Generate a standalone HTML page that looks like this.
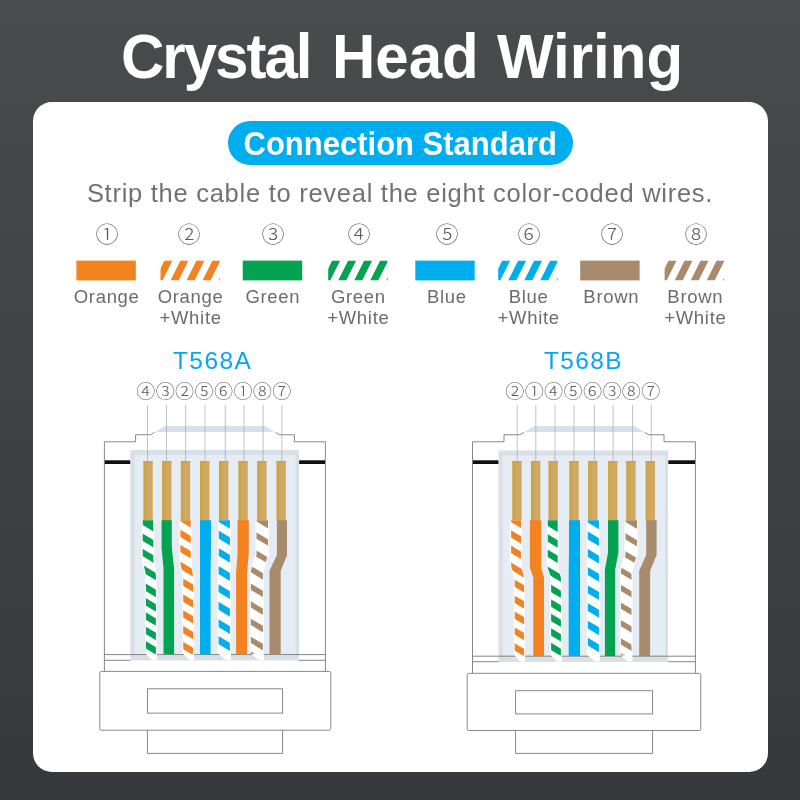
<!DOCTYPE html>
<html lang="en"><head><meta charset="utf-8"><title>Crystal Head Wiring</title>
<style>
html,body{margin:0;padding:0;}
body{width:800px;height:800px;overflow:hidden;position:relative;background:linear-gradient(180deg,#494b4d 0%,#37383b 100%);font-family:"Liberation Sans","Noto Sans CJK SC",sans-serif;}
.card{position:absolute;left:33px;top:101.5px;width:735.2px;height:670.5px;background:#fff;border-radius:19px;}
h1{position:absolute;left:0;top:23.8px;transform:scale(1,1.04);transform-origin:0 0;width:800px;height:64px;margin:0;color:#fff;font-weight:bold;font-size:60px;line-height:64px;white-space:nowrap;}
h1 span{position:absolute;top:0;}
.pill{position:absolute;left:227.75px;top:120.5px;width:345px;height:44.5px;border-radius:22.3px;background:#00AEEF;color:#fff;font-weight:bold;font-size:31px;line-height:47px;text-align:center;white-space:nowrap;}
.sub{position:absolute;left:0;top:177px;width:800px;text-align:center;color:#727272;font-size:25.5px;line-height:32px;white-space:nowrap;letter-spacing:0.73px;}
.num{position:absolute;top:219.5px;width:60px;text-align:center;transform:scaleX(1.05);font-size:22px;line-height:30px;color:#5c5c5c;font-weight:300;}
.lab{position:absolute;top:287px;width:100px;text-align:center;font-size:18.5px;line-height:20.75px;color:#6c6c6c;white-space:nowrap;letter-spacing:0.7px;}
.std{position:absolute;top:346px;width:160px;text-align:center;font-size:24.5px;line-height:30px;color:#08A6EC;white-space:nowrap;letter-spacing:1.4px;}
.pins{position:absolute;top:378.6px;width:220px;text-align:center;font-size:18.4px;line-height:26px;color:#5c5c5c;font-weight:300;white-space:nowrap;letter-spacing:0.3px;transform:scaleX(1.04);}
.pill span{display:inline-block;transform:scaleY(1.05);transform-origin:50% 72%;}
svg{position:absolute;left:0;top:0;}
.stage{position:absolute;left:0;top:0;width:800px;height:800px;will-change:transform;}
</style></head><body>
<div class="card"></div>
<div class="stage">
<h1><span style="left:121px;letter-spacing:-2px">Crystal </span><span style="left:332px">Head </span><span style="left:497px">Wiring</span></h1>
<div class="pill"><span>Connection Standard</span></div>
<div class="sub">Strip the cable to reveal the eight color-coded wires.</div>
<svg width="800" height="800" viewBox="0 0 800 800">
<defs><linearGradient id="pg" x1="0" y1="0" x2="1" y2="0"><stop offset="0" stop-color="#C9A23D"/><stop offset="0.25" stop-color="#CDA74F"/><stop offset="0.55" stop-color="#D0A96A"/><stop offset="0.85" stop-color="#D2A85E"/><stop offset="1" stop-color="#D0A152"/></linearGradient></defs>
<rect x="76.4" y="260.6" width="59.4" height="19.8" fill="#F38220"/><clipPath id="cs1"><rect x="160.5" y="260.6" width="59.4" height="19.8"/></clipPath><g clip-path="url(#cs1)" fill="#F38220"><polygon points="148.5,260.5 156.5,260.5 146.5,280.5 138.5,280.5"/><polygon points="164.5,260.5 172.5,260.5 162.5,280.5 154.5,280.5"/><polygon points="180.5,260.5 188.5,260.5 178.5,280.5 170.5,280.5"/><polygon points="196.5,260.5 204.5,260.5 194.5,280.5 186.5,280.5"/><polygon points="212.5,260.5 220.5,260.5 210.5,280.5 202.5,280.5"/><polygon points="228.5,260.5 236.5,260.5 226.5,280.5 218.5,280.5"/></g><rect x="242.75" y="260.6" width="59.4" height="19.8" fill="#03A351"/><clipPath id="cs3"><rect x="328.2" y="260.6" width="59.4" height="19.8"/></clipPath><g clip-path="url(#cs3)" fill="#03A351"><polygon points="316.2,260.5 324.2,260.5 314.2,280.5 306.2,280.5"/><polygon points="332.2,260.5 340.2,260.5 330.2,280.5 322.2,280.5"/><polygon points="348.2,260.5 356.2,260.5 346.2,280.5 338.2,280.5"/><polygon points="364.2,260.5 372.2,260.5 362.2,280.5 354.2,280.5"/><polygon points="380.2,260.5 388.2,260.5 378.2,280.5 370.2,280.5"/><polygon points="396.2,260.5 404.2,260.5 394.2,280.5 386.2,280.5"/></g><rect x="415.3" y="260.6" width="59.4" height="19.8" fill="#00AEEF"/><clipPath id="cs5"><rect x="498.2" y="260.6" width="59.4" height="19.8"/></clipPath><g clip-path="url(#cs5)" fill="#00AEEF"><polygon points="486.2,260.5 494.2,260.5 484.2,280.5 476.2,280.5"/><polygon points="502.2,260.5 510.2,260.5 500.2,280.5 492.2,280.5"/><polygon points="518.2,260.5 526.2,260.5 516.2,280.5 508.2,280.5"/><polygon points="534.2,260.5 542.2,260.5 532.2,280.5 524.2,280.5"/><polygon points="550.2,260.5 558.2,260.5 548.2,280.5 540.2,280.5"/><polygon points="566.2,260.5 574.2,260.5 564.2,280.5 556.2,280.5"/></g><rect x="580.2" y="260.6" width="59.4" height="19.8" fill="#A88A6C"/><clipPath id="cs7"><rect x="664.6" y="260.6" width="59.4" height="19.8"/></clipPath><g clip-path="url(#cs7)" fill="#A88A6C"><polygon points="652.6,260.5 660.6,260.5 650.6,280.5 642.6,280.5"/><polygon points="668.6,260.5 676.6,260.5 666.6,280.5 658.6,280.5"/><polygon points="684.6,260.5 692.6,260.5 682.6,280.5 674.6,280.5"/><polygon points="700.6,260.5 708.6,260.5 698.6,280.5 690.6,280.5"/><polygon points="716.6,260.5 724.6,260.5 714.6,280.5 706.6,280.5"/><polygon points="732.6,260.5 740.6,260.5 730.6,280.5 722.6,280.5"/></g><polygon points="165,426 265,426 274.87,432 155.13,432" fill="#D9E1E8"/><rect x="130.3" y="450" width="168.6" height="210.4" fill="#D7DFE7"/><rect x="134.6" y="455" width="161.2" height="200.6" fill="#E5ECF3"/><path d="M104.4,671.4 L104.4,441.8 L135.6,441.8 L135.6,434.75 L150.6,434.75 L154.63,432.3" fill="none" stroke="#7a7a7a" stroke-width="0.9"/><path d="M325.4,671.4 L325.4,441.8 L294.4,441.8 L294.4,434.75 L279.4,434.75 L275.37,432.3" fill="none" stroke="#7a7a7a" stroke-width="0.9"/><rect x="104.8" y="460.3" width="25.4" height="3.7" fill="#111"/><rect x="299.1" y="460.3" width="25.9" height="3.7" fill="#111"/><path d="M104.4,654.6 H325.4 M104.4,660.3 H130.3 M298.9,660.3 H325.4" fill="none" stroke="#777" stroke-width="0.9"/><rect x="143.4" y="461" width="9.3" height="60" fill="url(#pg)"/><rect x="143.4" y="461" width="9.3" height="1.5" fill="#D0A03C" opacity="0.8"/><rect x="162.1" y="461" width="9.3" height="60" fill="url(#pg)"/><rect x="162.1" y="461" width="9.3" height="1.5" fill="#D0A03C" opacity="0.8"/><rect x="180.8" y="461" width="9.3" height="60" fill="url(#pg)"/><rect x="180.8" y="461" width="9.3" height="1.5" fill="#D0A03C" opacity="0.8"/><rect x="200" y="461" width="9.3" height="60" fill="url(#pg)"/><rect x="200" y="461" width="9.3" height="1.5" fill="#D0A03C" opacity="0.8"/><rect x="219" y="461" width="9.3" height="60" fill="url(#pg)"/><rect x="219" y="461" width="9.3" height="1.5" fill="#D0A03C" opacity="0.8"/><rect x="238.4" y="461" width="9.3" height="60" fill="url(#pg)"/><rect x="238.4" y="461" width="9.3" height="1.5" fill="#D0A03C" opacity="0.8"/><rect x="257.2" y="461" width="9.3" height="60" fill="url(#pg)"/><rect x="257.2" y="461" width="9.3" height="1.5" fill="#D0A03C" opacity="0.8"/><rect x="276.5" y="461" width="9.3" height="60" fill="url(#pg)"/><rect x="276.5" y="461" width="9.3" height="1.5" fill="#D0A03C" opacity="0.8"/><line x1="147.5" y1="405" x2="147.5" y2="461" stroke="#a4a9ae" stroke-width="0.7"/><line x1="166.5" y1="405" x2="166.5" y2="461" stroke="#a4a9ae" stroke-width="0.7"/><line x1="185.6" y1="405" x2="185.6" y2="461" stroke="#a4a9ae" stroke-width="0.7"/><line x1="205" y1="405" x2="205" y2="461" stroke="#a4a9ae" stroke-width="0.7"/><line x1="225.3" y1="405" x2="225.3" y2="461" stroke="#a4a9ae" stroke-width="0.7"/><line x1="244" y1="405" x2="244" y2="461" stroke="#a4a9ae" stroke-width="0.7"/><line x1="263.1" y1="405" x2="263.1" y2="461" stroke="#a4a9ae" stroke-width="0.7"/><line x1="281.9" y1="405" x2="281.9" y2="461" stroke="#a4a9ae" stroke-width="0.7"/><path d="M141.8,520.2 L154.2,520.2 L154.2,560 L156.8,575 L156.8,659.9 L151.8,659.9 L145,652.9 L145,575 L141.8,560 Z" fill="#fff"/><clipPath id="aw0"><path d="M142.7,520.2 L153.3,520.2 L153.3,560 L155.9,575 L155.9,654 L145.9,654 L145.9,575 L142.7,560 Z"/></clipPath><g clip-path="url(#aw0)" fill="#03A351"><polygon points="140.8,518.2 157.8,518.2 157.8,534.1 140.8,523.9"/><polygon points="140.8,532.46 157.8,542.66 157.8,550.06 140.8,539.86"/><polygon points="140.8,547.66 157.8,557.86 157.8,565.26 140.8,555.06"/><polygon points="140.8,563.83 157.8,574.03 157.8,581.43 140.8,571.23"/><polygon points="140.8,580.64 157.8,590.84 157.8,598.24 140.8,588.04"/><polygon points="140.8,595.14 157.8,605.34 157.8,612.74 140.8,602.54"/><polygon points="140.8,609.34 157.8,619.54 157.8,626.94 140.8,616.74"/><polygon points="140.8,623.74 157.8,633.94 157.8,641.34 140.8,631.14"/><polygon points="140.8,638.14 157.8,648.34 157.8,655.74 140.8,645.54"/></g><path d="M161.6,520.2 L171.8,520.2 L171.8,548 L174.1,568.5 L174.1,654.3 L163.5,654.3 L163.5,568.5 L161.6,548 Z" fill="#03A351"/><path d="M179.5,520.2 L191.6,520.2 L191.6,563 L194.1,577 L194.1,659.9 L189.1,659.9 L182.3,652.9 L182.3,577 L179.5,563 Z" fill="#fff"/><clipPath id="aw2"><path d="M180.4,520.2 L190.7,520.2 L190.7,563 L193.2,577 L193.2,654 L183.2,654 L183.2,577 L180.4,563 Z"/></clipPath><g clip-path="url(#aw2)" fill="#F38220"><polygon points="178.5,518.2 195.1,518.2 195.1,530.04 178.5,520.08"/><polygon points="178.5,528.56 195.1,538.52 195.1,545.82 178.5,535.86"/><polygon points="178.5,543.76 195.1,553.72 195.1,561.02 178.5,551.06"/><polygon points="178.5,560.56 195.1,570.52 195.1,577.82 178.5,567.86"/><polygon points="178.5,575.78 195.1,585.74 195.1,593.04 178.5,583.08"/><polygon points="178.5,591.68 195.1,601.64 195.1,608.94 178.5,598.98"/><polygon points="178.5,607.48 195.1,617.44 195.1,624.74 178.5,614.78"/><polygon points="178.5,623.18 195.1,633.14 195.1,640.44 178.5,630.48"/><polygon points="178.5,638.98 195.1,648.94 195.1,656.24 178.5,646.28"/></g><path d="M200,520.2 L211,520.2 L211,550 L210.6,570 L210.6,654.3 L200,654.3 L200,570 L200,550 Z" fill="#00AEEF"/><path d="M217.9,520.2 L230.8,520.2 L230.8,550 L230.8,570 L230.8,659.9 L225.8,659.9 L217.7,652.9 L217.7,570 L217.9,550 Z" fill="#fff"/><clipPath id="aw4"><path d="M218.8,520.2 L229.9,520.2 L229.9,550 L229.9,570 L229.9,654 L218.6,654 L218.6,570 L218.8,550 Z"/></clipPath><g clip-path="url(#aw4)" fill="#00AEEF"><polygon points="216.7,518.2 231.8,518.2 231.8,529.74 216.7,520.68"/><polygon points="216.7,529.54 231.8,538.6 231.8,546.5 216.7,537.44"/><polygon points="216.7,546.94 231.8,556 231.8,563.9 216.7,554.84"/><polygon points="216.7,565.04 231.8,574.1 231.8,582 216.7,572.94"/><polygon points="216.7,583.16 231.8,592.22 231.8,600.12 216.7,591.06"/><polygon points="216.7,600.76 231.8,609.82 231.8,617.72 216.7,608.66"/><polygon points="216.7,618.16 231.8,627.22 231.8,635.12 216.7,626.06"/><polygon points="216.7,635.06 231.8,644.12 231.8,652.02 216.7,642.96"/></g><path d="M237.6,520.2 L248.8,520.2 L248.8,552.7 L247,573 L247,654.3 L236.1,654.3 L236.1,573 L237.6,552.7 Z" fill="#F38220"/><path d="M255.6,520.2 L269,520.2 L269,555 L263.8,570.7 L263.8,659.9 L258.8,659.9 L249.9,652.9 L249.9,570.7 L255.6,555 Z" fill="#fff"/><clipPath id="aw6"><path d="M256.5,520.2 L268.1,520.2 L268.1,555 L262.9,570.7 L262.9,654 L250.8,654 L250.8,570.7 L256.5,555 Z"/></clipPath><g clip-path="url(#aw6)" fill="#A88A6C"><polygon points="248.9,518.2 270,518.2 270,529.54 248.9,516.88"/><polygon points="248.9,527.94 270,540.6 270,546.9 248.9,534.24"/><polygon points="248.9,545.94 270,558.6 270,564.9 248.9,552.24"/><polygon points="248.9,564.81 270,577.47 270,583.77 248.9,571.11"/><polygon points="248.9,582.46 270,595.12 270,601.42 248.9,588.76"/><polygon points="248.9,600.16 270,612.82 270,619.12 248.9,606.46"/><polygon points="248.9,617.56 270,630.22 270,636.52 248.9,623.86"/><polygon points="248.9,635.56 270,648.22 270,654.52 248.9,641.86"/><polygon points="248.9,650.46 270,663.12 270,669.42 248.9,656.76"/></g><path d="M276.9,520.2 L287,520.2 L287,555 L280.7,570.7 L280.7,654.3 L269.5,654.3 L269.5,570.7 L276.9,555 Z" fill="#A88A6C"/><rect x="99.8" y="671.4" width="231" height="58.8" rx="1.5" fill="#fff" stroke="#7a7a7a" stroke-width="0.9"/><rect x="147.4" y="688.8" width="135.2" height="24.3" fill="#fff" stroke="#7a7a7a" stroke-width="0.9"/><path d="M147.4,730.2 V753.4 H282.6 V730.2" fill="none" stroke="#7a7a7a" stroke-width="0.9"/><polygon points="534,426 635,426 644.19,432 524.4,432" fill="#D9E1E8"/><rect x="498.5" y="450.5" width="169.6" height="211.5" fill="#D7DFE7"/><rect x="502.8" y="455.5" width="162.2" height="201.7" fill="#E5ECF3"/><path d="M472.5,673.3 L472.5,441.8 L504,441.8 L504,434.75 L520,434.75 L523.92,432.3" fill="none" stroke="#7a7a7a" stroke-width="0.9"/><path d="M695.4,673.3 L695.4,441.8 L664,441.8 L664,434.75 L648.4,434.75 L644.65,432.3" fill="none" stroke="#7a7a7a" stroke-width="0.9"/><rect x="472.9" y="460.3" width="25.5" height="3.7" fill="#111"/><rect x="668.3" y="460.3" width="26.7" height="3.7" fill="#111"/><path d="M472.5,656.2 H695.4 M472.5,661.7 H498.5 M668.1,661.7 H695.4" fill="none" stroke="#777" stroke-width="0.9"/><rect x="512.25" y="461" width="9.3" height="60" fill="url(#pg)"/><rect x="512.25" y="461" width="9.3" height="1.5" fill="#D0A03C" opacity="0.8"/><rect x="531" y="461" width="9.3" height="60" fill="url(#pg)"/><rect x="531" y="461" width="9.3" height="1.5" fill="#D0A03C" opacity="0.8"/><rect x="548.5" y="461" width="9.3" height="60" fill="url(#pg)"/><rect x="548.5" y="461" width="9.3" height="1.5" fill="#D0A03C" opacity="0.8"/><rect x="569.3" y="461" width="9.3" height="60" fill="url(#pg)"/><rect x="569.3" y="461" width="9.3" height="1.5" fill="#D0A03C" opacity="0.8"/><rect x="588.1" y="461" width="9.3" height="60" fill="url(#pg)"/><rect x="588.1" y="461" width="9.3" height="1.5" fill="#D0A03C" opacity="0.8"/><rect x="608.1" y="461" width="9.3" height="60" fill="url(#pg)"/><rect x="608.1" y="461" width="9.3" height="1.5" fill="#D0A03C" opacity="0.8"/><rect x="626.25" y="461" width="9.3" height="60" fill="url(#pg)"/><rect x="626.25" y="461" width="9.3" height="1.5" fill="#D0A03C" opacity="0.8"/><rect x="645.6" y="461" width="9.3" height="60" fill="url(#pg)"/><rect x="645.6" y="461" width="9.3" height="1.5" fill="#D0A03C" opacity="0.8"/><line x1="517.25" y1="405" x2="517.25" y2="461" stroke="#a4a9ae" stroke-width="0.7"/><line x1="535.8" y1="405" x2="535.8" y2="461" stroke="#a4a9ae" stroke-width="0.7"/><line x1="555" y1="405" x2="555" y2="461" stroke="#a4a9ae" stroke-width="0.7"/><line x1="574" y1="405" x2="574" y2="461" stroke="#a4a9ae" stroke-width="0.7"/><line x1="594.4" y1="405" x2="594.4" y2="461" stroke="#a4a9ae" stroke-width="0.7"/><line x1="613.1" y1="405" x2="613.1" y2="461" stroke="#a4a9ae" stroke-width="0.7"/><line x1="632.5" y1="405" x2="632.5" y2="461" stroke="#a4a9ae" stroke-width="0.7"/><line x1="651.25" y1="405" x2="651.25" y2="461" stroke="#a4a9ae" stroke-width="0.7"/><path d="M510.2,520.2 L522,520.2 L522,566 L525,577.5 L525,661.5 L520,661.5 L513.8,654.5 L513.8,577.5 L510.2,566 Z" fill="#fff"/><clipPath id="bw0"><path d="M511.1,520.2 L521.1,520.2 L521.1,566 L524.1,577.5 L524.1,655.6 L514.7,655.6 L514.7,577.5 L511.1,566 Z"/></clipPath><g clip-path="url(#bw0)" fill="#F38220"><polygon points="509.2,518.2 526,518.2 526,530.94 509.2,520.86"/><polygon points="509.2,529.23 526,539.31 526,546.61 509.2,536.53"/><polygon points="509.2,544.54 526,554.62 526,561.92 509.2,551.84"/><polygon points="509.2,561.47 526,571.55 526,578.85 509.2,568.77"/><polygon points="509.2,576.33 526,586.41 526,593.71 509.2,583.63"/><polygon points="509.2,592.35 526,602.43 526,609.73 509.2,599.65"/><polygon points="509.2,608.27 526,618.35 526,625.65 509.2,615.57"/><polygon points="509.2,624.09 526,634.17 526,641.47 509.2,631.39"/><polygon points="509.2,640.01 526,650.09 526,657.39 509.2,647.31"/></g><path d="M529.9,520.2 L541.2,520.2 L541.2,568 L544,577.5 L544,655.9 L533.3,655.9 L533.3,577.5 L529.9,568 Z" fill="#F38220"/><path d="M546.8,520.2 L558.6,520.2 L558.6,568 L561.8,577.5 L561.8,661.5 L556.8,661.5 L550.2,654.5 L550.2,577.5 L546.8,568 Z" fill="#fff"/><clipPath id="bw2"><path d="M547.7,520.2 L557.7,520.2 L557.7,568 L560.9,577.5 L560.9,655.6 L551.1,655.6 L551.1,577.5 L547.7,568 Z"/></clipPath><g clip-path="url(#bw2)" fill="#03A351"><polygon points="545.8,518.2 562.8,518.2 562.8,535.06 545.8,524.86"/><polygon points="545.8,533.15 562.8,543.35 562.8,550.75 545.8,540.55"/><polygon points="545.8,548.47 562.8,558.67 562.8,566.07 545.8,555.87"/><polygon points="545.8,565.5 562.8,575.7 562.8,583.1 545.8,572.9"/><polygon points="545.8,581.59 562.8,591.79 562.8,599.19 545.8,588.99"/><polygon points="545.8,596.2 562.8,606.4 562.8,613.8 545.8,603.6"/><polygon points="545.8,610.51 562.8,620.71 562.8,628.11 545.8,617.91"/><polygon points="545.8,625.01 562.8,635.21 562.8,642.61 545.8,632.41"/><polygon points="545.8,639.52 562.8,649.72 562.8,657.12 545.8,646.92"/></g><path d="M569,520.2 L580,520.2 L580,550 L580,570 L580,655.9 L568.7,655.9 L568.7,570 L569,550 Z" fill="#00AEEF"/><path d="M586.9,520.2 L599.8,520.2 L599.8,550 L599.8,570 L599.8,661.5 L594.8,661.5 L586.9,654.5 L586.9,570 L586.9,550 Z" fill="#fff"/><clipPath id="bw4"><path d="M587.8,520.2 L598.9,520.2 L598.9,550 L598.9,570 L598.9,655.6 L587.8,655.6 L587.8,570 L587.8,550 Z"/></clipPath><g clip-path="url(#bw4)" fill="#00AEEF"><polygon points="585.9,518.2 600.8,518.2 600.8,530.34 585.9,521.4"/><polygon points="585.9,530.33 600.8,539.27 600.8,547.17 585.9,538.23"/><polygon points="585.9,547.86 600.8,556.8 600.8,564.7 585.9,555.76"/><polygon points="585.9,566 600.8,574.94 600.8,582.84 585.9,573.9"/><polygon points="585.9,584.23 600.8,593.17 600.8,601.07 585.9,592.13"/><polygon points="585.9,601.97 600.8,610.91 600.8,618.81 585.9,609.87"/><polygon points="585.9,619.5 600.8,628.44 600.8,636.34 585.9,627.4"/><polygon points="585.9,636.52 600.8,645.46 600.8,653.36 585.9,644.42"/></g><path d="M608,520.2 L618.4,520.2 L618.4,552.7 L615.2,569.6 L615.2,655.9 L604.9,655.9 L604.9,569.6 L608,552.7 Z" fill="#03A351"/><path d="M624.6,520.2 L638,520.2 L638,555 L632.4,570.7 L632.4,661.5 L627.4,661.5 L620,654.5 L620,570.7 L624.6,555 Z" fill="#fff"/><clipPath id="bw6"><path d="M625.5,520.2 L637.1,520.2 L637.1,555 L631.5,570.7 L631.5,655.6 L620.9,655.6 L620.9,570.7 L625.5,555 Z"/></clipPath><g clip-path="url(#bw6)" fill="#A88A6C"><polygon points="619,518.2 639,518.2 639,530.14 619,518.14"/><polygon points="619,529.29 639,541.29 639,547.59 619,535.59"/><polygon points="619,547.42 639,559.42 639,565.72 619,553.72"/><polygon points="619,566.08 639,578.08 639,584.38 619,572.38"/><polygon points="619,583.53 639,595.53 639,601.83 619,589.83"/><polygon points="619,601.36 639,613.36 639,619.66 619,607.66"/><polygon points="619,618.89 639,630.89 639,637.19 619,625.19"/><polygon points="619,637.03 639,649.03 639,655.33 619,643.33"/><polygon points="619,652.04 639,664.04 639,670.34 619,658.34"/></g><path d="M646.2,520.2 L656.6,520.2 L656.6,555 L650.1,570.7 L650.1,655.9 L639.2,655.9 L639.2,570.7 L646.2,555 Z" fill="#A88A6C"/><rect x="467.2" y="673.3" width="233.6" height="57.2" rx="1.5" fill="#fff" stroke="#7a7a7a" stroke-width="0.9"/><rect x="515.6" y="690.7" width="137" height="23.2" fill="#fff" stroke="#7a7a7a" stroke-width="0.9"/><path d="M515.6,730.5 V753.4 H652.6 V730.5" fill="none" stroke="#7a7a7a" stroke-width="0.9"/>
</svg>
<div class="num" style="left:76.85px">①</div>
<div class="lab" style="left:56.65px">Orange</div>
<div class="num" style="left:158.90px">②</div>
<div class="lab" style="left:140.60px">Orange<br>+White</div>
<div class="num" style="left:243.00px">③</div>
<div class="lab" style="left:222.85px">Green</div>
<div class="num" style="left:328.75px">④</div>
<div class="lab" style="left:308.35px">Green<br>+White</div>
<div class="num" style="left:417.20px">⑤</div>
<div class="lab" style="left:396.95px">Blue</div>
<div class="num" style="left:498.75px">⑥</div>
<div class="lab" style="left:478.65px">Blue<br>+White</div>
<div class="num" style="left:581.90px">⑦</div>
<div class="lab" style="left:561.35px">Brown</div>
<div class="num" style="left:665.60px">⑧</div>
<div class="lab" style="left:645.35px">Brown<br>+White</div>
<div class="std" style="left:132.6px">T568A</div>
<div class="std" style="left:503.5px">T568B</div>
<div class="pins" style="left:103.6px">④③②⑤⑥①⑧⑦</div>
<div class="pins" style="left:472.6px">②①④⑤⑥③⑧⑦</div>
</div>
</body></html>
